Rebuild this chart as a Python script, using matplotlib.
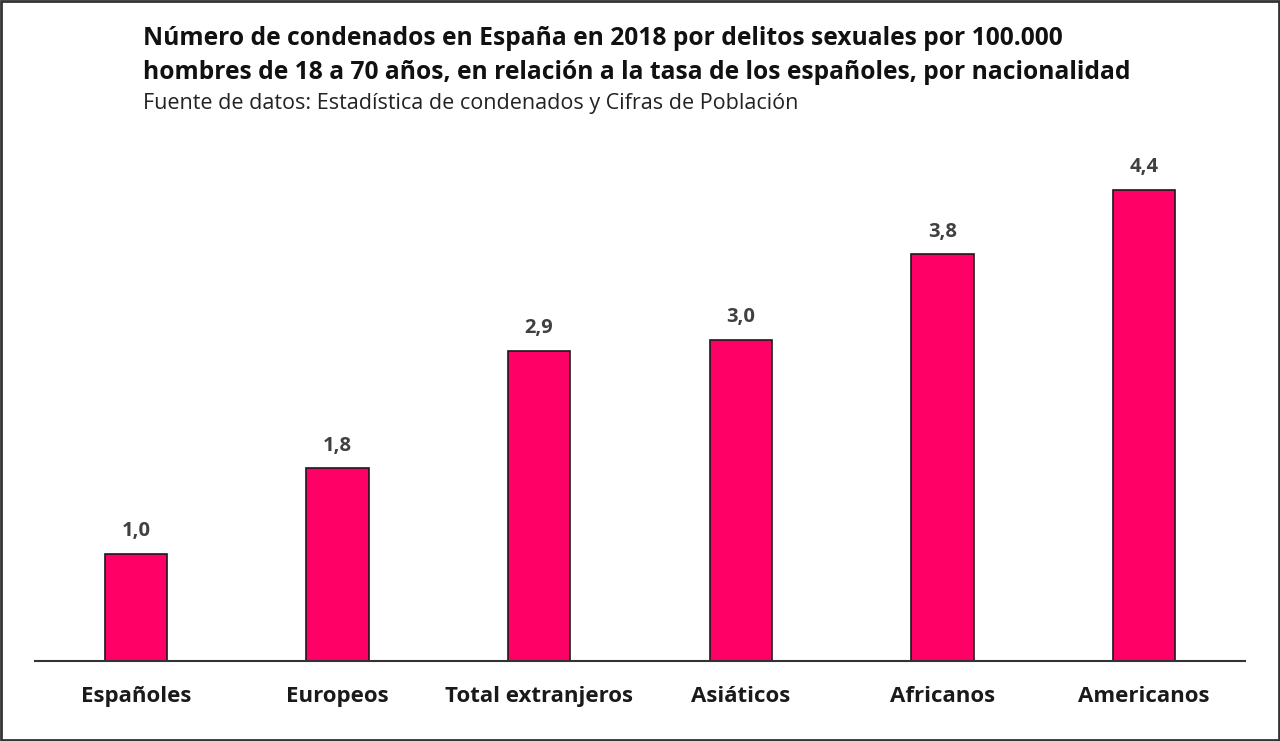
import numpy as np
import matplotlib.pyplot as plt
from matplotlib.patches import Rectangle

# Datos
categorias = ["Españoles", "Europeos", "Total extranjeros", "Asiáticos", "Africanos", "Americanos"]
valores = [1.0, 1.8, 2.9, 3.0, 3.8, 4.4]
etiquetas = ["1,0", "1,8", "2,9", "3,0", "3,8", "4,4"]

titulo = ("Número de condenados en España en 2018 por delitos sexuales por 100.000\n"
          "hombres de 18 a 70 años, en relación a la tasa de los españoles, por nacionalidad")
fuente = "Fuente de datos: Estadística de condenados y Cifras de Población"

plt.rcParams['font.family'] = ['Open Sans', 'DejaVu Sans']

fig = plt.figure(figsize=(12.8, 7.41), dpi=100)
ax = fig.add_axes([35 / 1280, 80 / 741, 1210 / 1280, 535 / 741])

x = np.arange(len(categorias))
ax.bar(x, valores, width=0.31, color='#FF0066', edgecolor='#1a1a1a', linewidth=1.2, zorder=2)

for xi, v, lab in zip(x, valores, etiquetas):
    ax.text(xi, v + 0.12, lab, ha='center', va='bottom', fontsize=14.5,
            fontweight='bold', color='#404040')

ax.set_xlim(-0.5, 5.5)
ax.set_ylim(0, 5.0)
ax.set_xticks(x)
ax.set_xticklabels(categorias, fontsize=16, fontweight='bold', color='#1a1a1a')
ax.tick_params(axis='x', length=0, pad=18)
ax.set_yticks([])
for s in ['top', 'right', 'left']:
    ax.spines[s].set_visible(False)
ax.spines['bottom'].set_color('#333333')
ax.spines['bottom'].set_linewidth(1.5)

fig.text(143 / 1280, 1 - 26 / 741, titulo, ha='left', va='top', fontsize=17.7,
         fontweight='bold', color='#111111', linespacing=1.45)
fig.text(143 / 1280, 1 - 93 / 741, fuente, ha='left', va='top', fontsize=15.5,
         color='#222222')

# Marco exterior
fig.patches.append(Rectangle((0.001, 0.001), 0.998, 0.998, transform=fig.transFigure,
                             fill=False, edgecolor='#333333', linewidth=2))

fig.savefig('out.png', dpi=100, facecolor='white')
